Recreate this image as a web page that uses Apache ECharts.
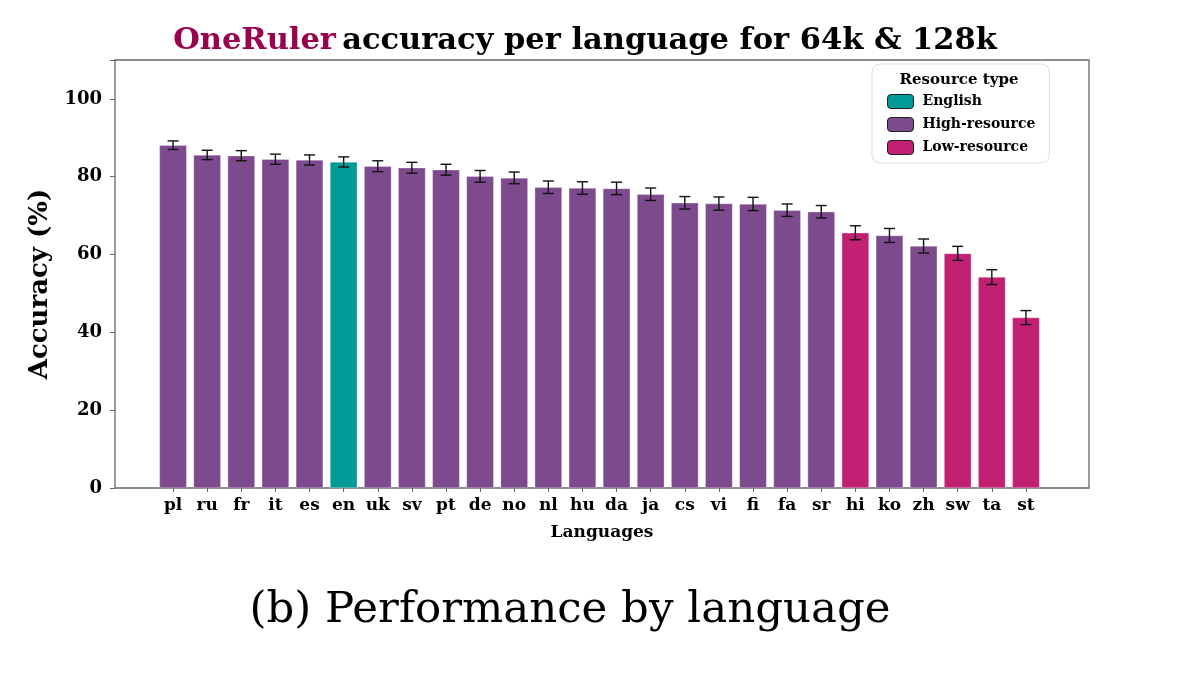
<!DOCTYPE html>
<html>
<head>
<meta charset="utf-8">
<script src="https://cdn.jsdelivr.net/npm/echarts@6/dist/echarts.min.js"></script>
<style>
  html, body { margin: 0; padding: 0; background: #fff; }
  #chart { width: 1177px; height: 675px; }
</style>
</head>
<body>
<div id="chart"></div>
<script>
// languages in plotted order
var languages = ['pl','ru','fr','it','es','en','uk','sv','pt','de','no','nl','hu',
  'da','ja','cs','vi','fi','fa','sr','hi','ko','zh','sw','ta','st'];
var accuracy = [88.1,85.6,85.4,84.5,84.3,83.8,82.7,82.3,81.8,80.1,79.7,77.3,77.1,
  77.0,75.5,73.3,73.1,73.0,71.4,71.0,65.6,64.9,62.2,60.3,54.2,43.8];
var errors = [1.1,1.2,1.3,1.3,1.3,1.3,1.4,1.4,1.4,1.5,1.5,1.6,1.6,
  1.6,1.6,1.6,1.7,1.7,1.6,1.6,1.8,1.8,1.8,1.8,1.9,1.8];
var resource = ['High','High','High','High','High','English','High','High','High','High','High','High','High',
  'High','High','High','High','High','High','High','Low','High','High','Low','Low','Low'];
var yTicks = [0,20,40,60,80,100];

var groups = [
  {key:'English', name:'English', color:'#009A97'},
  {key:'High', name:'High-resource', color:'#7E4A8E'},
  {key:'Low', name:'Low-resource', color:'#C22173'}
];

var font = 'DejaVu Serif';

var barSeries = groups.map(function (g) {
  return {
    name: g.name,
    type: 'bar',
    xAxisIndex: 1,
    yAxisIndex: 1,
    barWidth: '80%',
    barGap: '-100%',
    itemStyle: {color: g.color, borderColor: 'rgba(255,255,255,0.6)', borderWidth: 0.5},
    data: accuracy.map(function (v, i) { return resource[i] === g.key ? v : '-'; })
  };
});

var errData = accuracy.map(function (v, i) { return [i, v - errors[i], v + errors[i]]; });

var errSeries = {
  type: 'custom',
  xAxisIndex: 1,
  yAxisIndex: 1,
  z: 10,
  data: errData,
  encode: {x: 0, y: [1, 2]},
  renderItem: function (params, api) {
    var lo = api.coord([api.value(0), api.value(1)]);
    var hi = api.coord([api.value(0), api.value(2)]);
    var w = 5.5;
    var st = {stroke: '#111', lineWidth: 1.4};
    return {
      type: 'group',
      children: [
        {type: 'line', shape: {x1: lo[0], y1: lo[1], x2: hi[0], y2: hi[1]}, style: st},
        {type: 'line', shape: {x1: lo[0] - w, y1: lo[1], x2: lo[0] + w, y2: lo[1]}, style: st},
        {type: 'line', shape: {x1: hi[0] - w, y1: hi[1], x2: hi[0] + w, y2: hi[1]}, style: st}
      ]
    };
  }
};

var chart = echarts.init(document.getElementById('chart'));
chart.setOption({
  animation: false,
  textStyle: {fontFamily: font},
  title: [
    {
      text: '{a|OneRuler} {b|accuracy per language for 64k & 128k}',
      left: 580, top: 21, textAlign: 'center',
      textStyle: {
        rich: {
          a: {fontFamily: font, fontWeight: 'bold', fontSize: 30.5, color: '#99004D'},
          b: {fontFamily: font, fontWeight: 'bold', fontSize: 30.5, color: '#000'}
        }
      }
    },
    {
      text: 'Resource type',
      left: 954, top: 68, textAlign: 'center',
      textStyle: {fontFamily: font, fontWeight: 'bold', fontSize: 15, color: '#000'}
    },
    {
      text: '(b) Performance by language',
      left: 565, top: 584, textAlign: 'center',
      textStyle: {fontFamily: font, fontWeight: 'normal', fontSize: 43.5, color: '#000'}
    }
  ],
  legend: {
    orient: 'vertical',
    left: 872, top: 64,
    padding: [30, 14, 8, 15],
    itemGap: 8,
    itemWidth: 26,
    itemHeight: 14,
    borderColor: '#ddd',
    borderWidth: 1,
    borderRadius: 8,
    backgroundColor: '#fff',
    icon: 'roundRect',
    itemStyle: {borderColor: '#222', borderWidth: 1},
    textStyle: {fontFamily: font, fontWeight: 'bold', fontSize: 14, color: '#000', padding: [0, 0, 0, 4]},
    data: groups.map(function (g) { return g.name; })
  },
  grid: [
    {left: 115, right: 88, top: 60, bottom: 187, show: true, borderColor: '#666', borderWidth: 1.3},
    {left: 156, right: 134, top: 60, bottom: 187}
  ],
  xAxis: [
    {
      type: 'value', gridIndex: 0, min: 0, max: 1,
      axisLine: {show: false}, axisTick: {show: false}, axisLabel: {show: false}, splitLine: {show: false},
      name: 'Languages', nameLocation: 'middle', nameGap: 36,
      nameTextStyle: {fontFamily: font, fontWeight: 'bold', fontSize: 17, color: '#000'}
    },
    {
      type: 'category', gridIndex: 1, data: languages,
      axisLine: {show: false},
      axisTick: {show: true, alignWithLabel: true, length: 4, lineStyle: {color: '#666'}},
      axisLabel: {interval: 0, margin: 9, fontFamily: font, fontWeight: 'bold', fontSize: 17, color: '#000'}
    }
  ],
  yAxis: [
    {
      type: 'value', gridIndex: 0, min: 0, max: 110, interval: 20,
      axisLine: {show: false},
      axisTick: {show: true, length: 5, lineStyle: {color: '#666'}},
      axisLabel: {
        margin: 13, fontFamily: font, fontWeight: 'bold', fontSize: 18, color: '#000',
        formatter: function (v) { return yTicks.indexOf(v) >= 0 ? String(v) : ''; }
      },
      splitLine: {show: false},
      name: 'Accuracy (%)', nameLocation: 'middle', nameGap: 56, nameRotate: 90,
      nameTextStyle: {fontFamily: font, fontWeight: 'bold', fontSize: 26, color: '#000', padding: [0, 20, 0, 0]}
    },
    {
      type: 'value', gridIndex: 1, min: 0, max: 110,
      show: false, splitLine: {show: false}
    }
  ],
  series: barSeries.concat([errSeries])
});
</script>
</body>
</html>
